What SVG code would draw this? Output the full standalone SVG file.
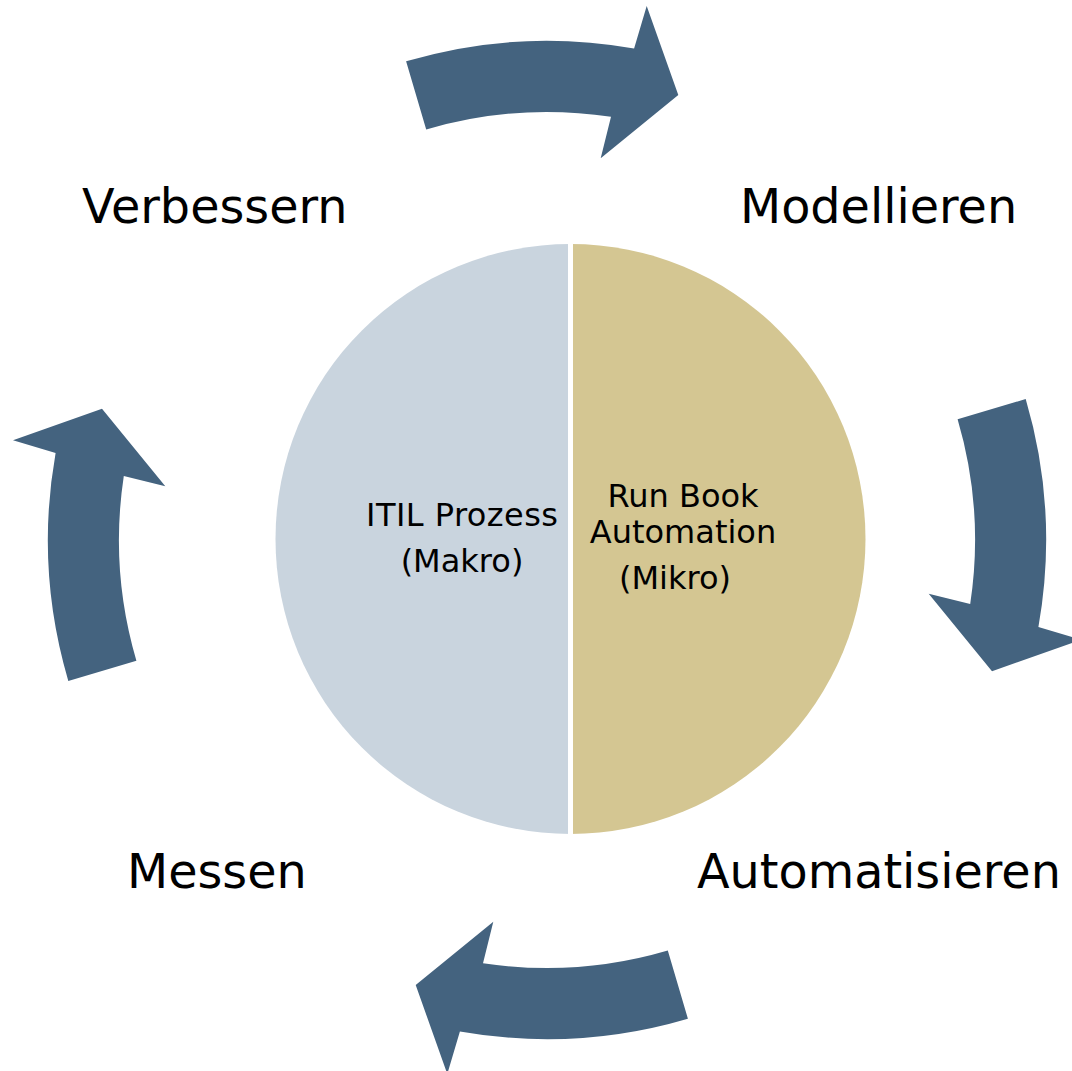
<svg xmlns="http://www.w3.org/2000/svg" xmlns:xlink="http://www.w3.org/1999/xlink" width="1072" height="1071" viewBox="0 0 1072 1071">
  <style>
    .arrow { fill: #44637F; }
    .big { font-family: "DejaVu Sans", Verdana, sans-serif; font-size: 47.7px; fill: #000; }
    .small { font-family: "DejaVu Sans", Verdana, sans-serif; font-size: 32px; fill: #000; text-anchor: middle; }
  </style>
  <defs>
    <path id="curvedArrow" d="M406.1,61.3 A499,499 0 0 1 634.1,48.6 L646.7,6 L678.3,95 L600.7,158.3 L611,116.8 A428,428 0 0 0 426.2,129.4 Z"/>
  </defs>
  <rect width="1072" height="1071" fill="#FFFFFF"/>

  <g id="connectors">
    <use xlink:href="#curvedArrow" class="arrow"/>
    <use xlink:href="#curvedArrow" class="arrow" transform="rotate(90 547 540)"/>
    <use xlink:href="#curvedArrow" class="arrow" transform="rotate(180 547 540)"/>
    <use xlink:href="#curvedArrow" class="arrow" transform="rotate(270 547 540)"/>
  </g>

  <g id="itil">
    <path d="M570.5,244 A295,295 0 0 0 570.5,834 Z" fill="#C9D4DE"/>
    <text class="small" x="462" y="526" textLength="192" lengthAdjust="spacing">ITIL Prozess</text>
    <text class="small" x="462" y="572">(Makro)</text>
  </g>

  <g id="rba">
    <path d="M570.5,244 A295,295 0 0 1 570.5,834 Z" fill="#D4C692"/>
    <text class="small" x="683" y="507">Run Book</text>
    <text class="small" x="683" y="543">Automation</text>
    <text class="small" x="675" y="589">(Mikro)</text>
  </g>

  <line x1="570.5" y1="238" x2="570.5" y2="840" stroke="#FFFFFF" stroke-width="5"/>

  <g id="verbessern"><text class="big" x="82" y="223">Verbessern</text></g>
  <g id="modellieren"><text class="big" x="740" y="223">Modellieren</text></g>
  <g id="messen"><text class="big" x="127" y="888">Messen</text></g>
  <g id="automatisieren"><text class="big" x="697" y="888">Automatisieren</text></g>
</svg>
